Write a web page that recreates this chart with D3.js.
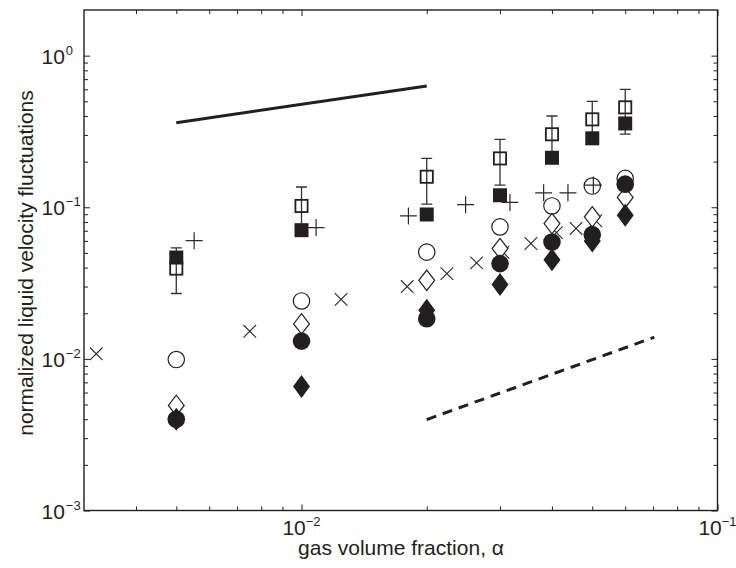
<!DOCTYPE html>
<html>
<head>
<meta charset="utf-8">
<script src="https://cdn.jsdelivr.net/npm/d3@7"></script>
<style>
  html, body { margin: 0; padding: 0; background: #fff; }
  svg { display: block; }
  text { font-family: "Liberation Sans", Arial, Helvetica, sans-serif; fill: #231f20; }
</style>
</head>
<body>
<svg id="chart" width="736" height="568"></svg>
<script>
// ---------- data ----------
const alpha = [0.005, 0.01, 0.02, 0.03, 0.04, 0.05, 0.06];
const openSquare    = [0.0394, 0.102, 0.159, 0.21, 0.303, 0.38, 0.456];
const openSquareHi  = [0.054, 0.136, 0.21, 0.28, 0.40, 0.50, 0.60];
const openSquareLo  = [0.027, 0.072, 0.105, 0.14, 0.215, 0.29, 0.304];
const filledSquare  = [0.0466, 0.0706, 0.0896, 0.120, 0.212, 0.285, 0.357];
const openCircle    = [0.0099, 0.0241, 0.0506, 0.0742, 0.102, 0.138, 0.155];
const filledCircle  = [0.0040, 0.0131, 0.0184, 0.0425, 0.059, 0.066, 0.142];
const openDiamond   = [0.00493, 0.017, 0.033, 0.0534, 0.078, 0.0865, 0.116];
const filledDiamond = [0.0040, 0.00658, 0.0209, 0.031, 0.045, 0.0600, 0.0887];

const plusX = [0.00552, 0.01084, 0.01807, 0.0248, 0.0317, 0.0382, 0.0437, 0.0503];
const plusY = [0.0602, 0.0735, 0.0877, 0.104, 0.1076, 0.1245, 0.1245, 0.140];

const crossX = [0.00321, 0.00751, 0.01245, 0.01795, 0.02236, 0.02636, 0.0305, 0.0356, 0.041, 0.0457, 0.051];
const crossY = [0.0108, 0.0152, 0.0247, 0.030, 0.0365, 0.043, 0.0505, 0.0577, 0.068, 0.0725, 0.0815];

const solidLineX = [0.005, 0.02];
const solidLineY = [0.361, 0.63];
const dashedLineX = [0.02, 0.0705];
const dashedLineY = [0.00398, 0.0139];

const xMajor = [0.01, 0.1];
const xMajorLabels = [["10", "\u22122"], ["10", "\u22121"]];
const yMajor = [0.001, 0.01, 0.1, 1];
const yMajorLabels = [["10", "\u22123"], ["10", "\u22122"], ["10", "\u22121"], ["10", "0"]];
const xLabel = "gas volume fraction, \u03b1";
const yLabel = "normalized liquid velocity fluctuations";

// ---------- layout ----------
const svg = d3.select("#chart");
const L = 84, R = 717.5, T = 10, B = 510.5;
const ink = "#231f20";

const x = d3.scaleLog().domain([0.003, 0.1]).range([L, R]);
const y = d3.scaleLog().domain([0.001, 2]).range([B, T]);

// minor tick values
const xMinor = [];
[0.001, 0.01].forEach(d => { for (let k = 2; k <= 9; k++) { const v = d * k; if (v > 0.003 && v < 0.1) xMinor.push(v); } });
const yMinor = [];
[0.001, 0.01, 0.1, 1].forEach(d => { for (let k = 2; k <= 9; k++) { const v = d * k; if (v < 2) yMinor.push(v); } });

const MAJ = 6, MIN = 4;
function mk(axisGen, scale, vals, size, transform) {
  const g = svg.append("g").attr("transform", transform)
    .call(axisGen(scale).tickValues(vals).tickSizeInner(size).tickSizeOuter(0).tickFormat(""));
  g.select(".domain").remove();
  g.selectAll(".tick line").attr("stroke", ink).attr("stroke-width", 1);
  return g;
}
mk(d3.axisBottom, x, xMajor, -MAJ, `translate(0,${B})`);
mk(d3.axisBottom, x, xMinor, -MIN, `translate(0,${B})`);
mk(d3.axisTop, x, xMajor, -MAJ, `translate(0,${T})`);
mk(d3.axisTop, x, xMinor, -MIN, `translate(0,${T})`);
mk(d3.axisLeft, y, yMajor, -MAJ, `translate(${L},0)`);
mk(d3.axisLeft, y, yMinor, -MIN, `translate(${L},0)`);
mk(d3.axisRight, y, yMajor, -MAJ, `translate(${R},0)`);
mk(d3.axisRight, y, yMinor, -MIN, `translate(${R},0)`);

// frame
svg.append("rect").attr("x", L).attr("y", T).attr("width", R - L).attr("height", B - T)
  .attr("fill", "none").attr("stroke", ink).attr("stroke-width", 1.4);

// tick labels
const xl = svg.append("g");
xMajor.forEach((v, i) => {
  const t = xl.append("text").attr("x", x(v)).attr("y", 535).attr("text-anchor", "middle");
  t.append("tspan").attr("font-size", 21).text(xMajorLabels[i][0]);
  t.append("tspan").attr("font-size", 13).attr("dy", -9).text(xMajorLabels[i][1]);
});
const yl = svg.append("g");
yMajor.forEach((v, i) => {
  const t = yl.append("text").attr("x", 41.5).attr("y", y(v) + 8).attr("text-anchor", "start");
  t.append("tspan").attr("font-size", 21).text(yMajorLabels[i][0]);
  t.append("tspan").attr("font-size", 13).attr("dx", 1).attr("dy", -9).text(yMajorLabels[i][1]);
});

// axis titles
svg.append("text").attr("x", 401).attr("y", 555).attr("text-anchor", "middle")
  .attr("font-size", 21).text(xLabel);
svg.append("text").attr("transform", "translate(33,263) rotate(-90)").attr("text-anchor", "middle")
  .attr("font-size", 21).text(yLabel);

// ---------- marks ----------
const plot = svg.append("g");
const line = d3.line().x(d => x(d[0])).y(d => y(d[1]));

plot.append("path").datum(d3.zip(solidLineX, solidLineY)).attr("d", line)
  .attr("fill", "none").attr("stroke", ink).attr("stroke-width", 3);
plot.append("path").datum(d3.zip(dashedLineX, dashedLineY)).attr("d", line)
  .attr("fill", "none").attr("stroke", ink).attr("stroke-width", 3).attr("stroke-dasharray", "10,7");

// crosses
const cs = 6.3;
plot.append("g").selectAll("path").data(d3.zip(crossX, crossY)).join("path")
  .attr("d", d => { const cx = x(d[0]), cy = y(d[1]);
    return `M${cx-cs},${cy-cs}L${cx+cs},${cy+cs}M${cx-cs},${cy+cs}L${cx+cs},${cy-cs}`; })
  .attr("stroke", "#2a2a2a").attr("stroke-width", 1.1).attr("fill", "none");

// pluses
const ps = 8.5;
plot.append("g").selectAll("path").data(d3.zip(plusX, plusY)).join("path")
  .attr("d", d => { const cx = x(d[0]), cy = y(d[1]);
    return `M${cx-ps},${cy}L${cx+ps},${cy}M${cx},${cy-ps}L${cx},${cy+ps}`; })
  .attr("stroke", "#2a2a2a").attr("stroke-width", 1.2).attr("fill", "none");

// error bars
const eb = plot.append("g").attr("stroke", "#333").attr("stroke-width", 1.3).attr("fill", "none");
const cap = 5.5;
alpha.forEach((a, i) => {
  const cx = x(a);
  eb.append("path").attr("d",
    `M${cx},${y(openSquareHi[i])}L${cx},${y(openSquareLo[i])}` +
    `M${cx-cap},${y(openSquareHi[i])}L${cx+cap},${y(openSquareHi[i])}` +
    `M${cx-cap},${y(openSquareLo[i])}L${cx+cap},${y(openSquareLo[i])}`);
});

// open squares
const sq = 14;
plot.append("g").selectAll("rect").data(d3.zip(alpha, openSquare)).join("rect")
  .attr("x", d => x(d[0]) - sq / 2 + 0.9).attr("y", d => y(d[1]) - sq / 2 + 0.9)
  .attr("width", sq - 1.8).attr("height", sq - 1.8)
  .attr("fill", "none").attr("stroke", ink).attr("stroke-width", 1.8);

// filled squares
plot.append("g").selectAll("rect").data(d3.zip(alpha, filledSquare)).join("rect")
  .attr("x", d => x(d[0]) - sq / 2).attr("y", d => y(d[1]) - sq / 2)
  .attr("width", sq).attr("height", sq).attr("fill", ink);

// open circles
plot.append("g").selectAll("circle").data(d3.zip(alpha, openCircle)).join("circle")
  .attr("cx", d => x(d[0])).attr("cy", d => y(d[1])).attr("r", 8.2)
  .attr("fill", "none").attr("stroke", ink).attr("stroke-width", 1.2);

// open diamonds (white interior hides the crosses beneath)
const dw = 8.5, dh = 11;
const diamond = (cx, cy, w, h) => `M${cx},${cy-h}L${cx+w},${cy}L${cx},${cy+h}L${cx-w},${cy}Z`;
plot.append("g").selectAll("path").data(d3.zip(alpha, openDiamond)).join("path")
  .attr("d", d => diamond(x(d[0]), y(d[1]), dw - 0.6, dh - 0.8))
  .attr("fill", "#fff").attr("stroke", ink).attr("stroke-width", 1.2);

// filled circles
plot.append("g").selectAll("circle").data(d3.zip(alpha, filledCircle)).join("circle")
  .attr("cx", d => x(d[0])).attr("cy", d => y(d[1])).attr("r", 8.8).attr("fill", ink);

// filled diamonds
plot.append("g").selectAll("path").data(d3.zip(alpha, filledDiamond)).join("path")
  .attr("d", d => diamond(x(d[0]), y(d[1]), dw, dh + 0.5)).attr("fill", ink);
</script>
</body>
</html>
